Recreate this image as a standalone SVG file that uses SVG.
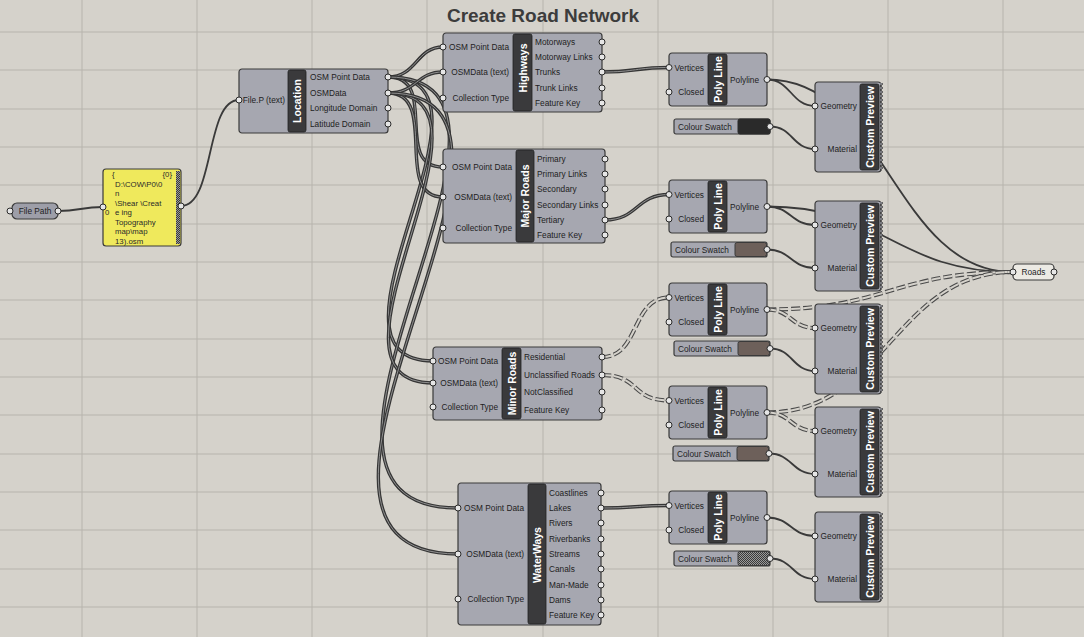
<svg xmlns="http://www.w3.org/2000/svg" width="1084" height="637" viewBox="0 0 1084 637">
<defs>
<style>
.bg{fill:#d5d2cb}
.grid{stroke:#b7b4ad;stroke-width:1;fill:none}
.body{fill:#a6a7b0;stroke:#3a3a3a;stroke-width:1.2}
.strip{fill:#3a3a3c;stroke:#222;stroke-width:0.8}
.ttl{fill:#ffffff;font-family:"Liberation Sans",Arial,sans-serif;font-weight:bold;font-size:10.5px;text-anchor:middle;dominant-baseline:central}
.lbl{fill:#1e1e1e;font-family:"Liberation Sans",Arial,sans-serif;font-size:8.3px;dominant-baseline:central}
.in{text-anchor:end}
.port{fill:#e6e6e6;stroke:#2a2a2a;stroke-width:1}
.w{fill:none;stroke:#3a3a3a;stroke-width:1.8}
.wd{fill:none;stroke:#353535;stroke-width:3.4}
.wdi{fill:none;stroke:#9a9a9a;stroke-width:0.9}
.wt{fill:none;stroke:#4a4a4a;stroke-width:4.2;stroke-dasharray:9 3}
.wti{fill:none;stroke:#d5d2cb;stroke-width:2;stroke-dasharray:9 3}
.panelt{fill:#2a2a2a;font-family:"Liberation Sans",Arial,sans-serif;font-size:7.8px}
</style>
<pattern id="zig" x="0" y="0" width="5" height="4" patternUnits="userSpaceOnUse">
<path d="M0,0 L3,2 L0,4 Z" fill="#a6a7b0" stroke="#2a2a2a" stroke-width="0.7"/>
</pattern>
<pattern id="dots" x="0" y="0" width="2" height="2" patternUnits="userSpaceOnUse">
<rect width="2" height="2" fill="#3a3a3a"/>
<rect width="1" height="1" fill="#9a9a9a"/>
<rect x="1" y="1" width="1" height="1" fill="#9a9a9a"/>
</pattern>
</defs>
<rect class="bg" x="0" y="0" width="1084" height="637"/>
<path class="grid" d="M82,0V637M197,0V637M312,0V637M427,0V637M543,0V637M658,0V637M773,0V637M888,0V637M1003,0V637M0,32H1084M0,70H1084M0,109H1084M0,147H1084M0,185H1084M0,224H1084M0,262H1084M0,300H1084M0,339H1084M0,377H1084M0,415H1084M0,454H1084M0,492H1084M0,530H1084M0,569H1084M0,607H1084"/>
<text x="543" y="22" font-family="Liberation Sans,Arial,sans-serif" font-size="19" font-weight="bold" fill="#3c3c3c" text-anchor="middle">Create Road Network</text>

<g id="connectors">
<path class="w" d="M58,211 C80,211 81,207 103,207"/>
<path class="w" d="M181,206 C215,206 205,100 239,100"/>
<!-- Location OSM Point Data -->
<path class="wd" d="M388,77 C417,77 416,47 443,47"/>
<path class="wdi" d="M388,77 C417,77 416,47 443,47"/>
<path class="wd" d="M388,77 C440,77 392,167 443,167"/>
<path class="wdi" d="M388,77 C440,77 392,167 443,167"/>
<path class="wd" d="M388,77 C520,77 300,361 433,361"/>
<path class="wdi" d="M388,77 C520,77 300,361 433,361"/>
<path class="wd" d="M388,77 C580,77 240,508 458,508"/>
<path class="wdi" d="M388,77 C580,77 240,508 458,508"/>
<!-- Location OSMData -->
<path class="wd" d="M388,93 C417,93 416,72 443,72"/>
<path class="wdi" d="M388,93 C417,93 416,72 443,72"/>
<path class="wd" d="M388,93 C440,93 392,197 443,197"/>
<path class="wdi" d="M388,93 C440,93 392,197 443,197"/>
<path class="wd" d="M388,93 C520,93 300,383 433,383"/>
<path class="wdi" d="M388,93 C520,93 300,383 433,383"/>
<path class="wd" d="M388,93 C590,93 228,554 458,554"/>
<path class="wdi" d="M388,93 C590,93 228,554 458,554"/>
<!-- outputs to polylines -->
<path class="wd" d="M602,72 C636,72 635,67.5 669,67.5"/>
<path class="wdi" d="M602,72 C636,72 635,67.5 669,67.5"/>
<path class="wd" d="M605,220 C638,220 636,194.5 669,194.5"/>
<path class="wdi" d="M605,220 C638,220 636,194.5 669,194.5"/>
<path class="wt" d="M602,357 C640,357 631,297.5 669,297.5"/>
<path class="wti" d="M602,357 C640,357 631,297.5 669,297.5"/>
<path class="wt" d="M602,375 C640,375 631,400.5 669,400.5"/>
<path class="wti" d="M602,375 C640,375 631,400.5 669,400.5"/>
<path class="wd" d="M601,508 C635,508 635,505.5 669,505.5"/>
<path class="wdi" d="M601,508 C635,508 635,505.5 669,505.5"/>
<!-- polylines to roads -->
<path class="w" d="M767,79.5 C885,79.5 895,272 1013,272"/>
<path class="w" d="M767,206.5 C885,206.5 895,272 1013,272"/>
<path class="wt" d="M767,309.5 C885,309.5 895,272 1013,272"/>
<path class="wti" d="M767,309.5 C885,309.5 895,272 1013,272"/>
<path class="wt" d="M767,412.5 C885,412.5 895,272 1013,272"/>
<path class="wti" d="M767,412.5 C885,412.5 895,272 1013,272"/>
<!-- polylines to previews -->
<path class="w" d="M767,79.5 C791,79.5 791,106 815,106"/>
<path class="w" d="M767,206.5 C791,206.5 791,225 815,225"/>
<path class="wt" d="M767,309.5 C791,309.5 791,328 815,328"/>
<path class="wti" d="M767,309.5 C791,309.5 791,328 815,328"/>
<path class="wt" d="M767,412.5 C791,412.5 791,431 815,431"/>
<path class="wti" d="M767,412.5 C791,412.5 791,431 815,431"/>
<path class="w" d="M767,517.5 C791,517.5 791,536 815,536"/>
<!-- swatches to material -->
<path class="w" d="M770,126.5 C793,126.5 792,149 815,149"/>
<path class="w" d="M767,249.5 C791,249.5 791,268 815,268"/>
<path class="w" d="M770,348.5 C793,348.5 792,371 815,371"/>
<path class="w" d="M769,453.5 C792,453.5 792,474 815,474"/>
<path class="w" d="M770,558.5 C793,558.5 792,579 815,579"/>
</g>

<g id="filepath">
<rect x="12" y="203" width="46" height="16" rx="5" fill="#9d9ea8" stroke="#3a3a3a" stroke-width="1.2"/>
<text class="lbl" x="35" y="211" text-anchor="middle">File Path</text>
<circle class="port" cx="10" cy="211" r="3"/>
<circle class="port" cx="58" cy="211" r="3"/>
</g>

<g id="panel">
<rect x="103" y="169" width="78" height="77" rx="3" fill="#efe95c" stroke="#3a3a3a" stroke-width="1.2"/>
<rect x="176" y="171" width="4" height="73" fill="url(#dots)"/>
<text class="panelt" x="112" y="177">{</text>
<text class="panelt" x="172" y="177" text-anchor="end">{0}</text>
<text class="panelt" x="115" y="187">D:\COW\P0\0</text>
<text class="panelt" x="115" y="196">n</text>
<text class="panelt" x="115" y="206">\Shear \Creat</text>
<text class="panelt" x="105" y="215">0</text>
<text class="panelt" x="115" y="215">e  ing</text>
<text class="panelt" x="115" y="225">Topography</text>
<text class="panelt" x="115" y="234">map\map</text>
<text class="panelt" x="115" y="244">13).osm</text>
<circle class="port" cx="103" cy="207" r="3"/>
<circle class="port" cx="181" cy="206" r="3"/>
</g>

<g id="location" transform="translate(239,69)">
<rect class="body" width="149" height="64" rx="3"/>
<rect class="strip" x="49" y="1" width="18" height="62" rx="2"/>
<text class="ttl" transform="translate(58,32) rotate(-90)">Location</text>
<text class="lbl in" x="46" y="31">File.P (text)</text>
<text class="lbl" x="71" y="8">OSM Point Data</text>
<text class="lbl" x="71" y="24">OSMData</text>
<text class="lbl" x="71" y="39">Longitude Domain</text>
<text class="lbl" x="71" y="55">Latitude Domain</text>
<circle class="port" cx="0" cy="31" r="3"/>
<circle class="port" cx="149" cy="8" r="3"/>
<circle class="port" cx="149" cy="24" r="3"/>
<circle class="port" cx="149" cy="39" r="3"/>
<circle class="port" cx="149" cy="55" r="3"/>
</g>

<g id="highways" transform="translate(443,33)">
<rect class="body" width="159" height="79" rx="3"/>
<rect class="strip" x="70" y="1" width="19" height="77" rx="2"/>
<text class="ttl" transform="translate(79.5,35) rotate(-90)">Highways</text>
<text class="lbl in" x="66" y="14">OSM Point Data</text>
<text class="lbl in" x="66" y="39">OSMData (text)</text>
<text class="lbl in" x="66" y="65">Collection Type</text>
<text class="lbl" x="92" y="9">Motorways</text>
<text class="lbl" x="92" y="24">Motorway Links</text>
<text class="lbl" x="92" y="39">Trunks</text>
<text class="lbl" x="92" y="55">Trunk Links</text>
<text class="lbl" x="92" y="70">Feature Key</text>
<circle class="port" cx="0" cy="14" r="3"/>
<circle class="port" cx="0" cy="39" r="3"/>
<circle class="port" cx="0" cy="65" r="3"/>
<circle class="port" cx="159" cy="9" r="3"/>
<circle class="port" cx="159" cy="24" r="3"/>
<circle class="port" cx="159" cy="39" r="3"/>
<circle class="port" cx="159" cy="55" r="3"/>
<circle class="port" cx="159" cy="70" r="3"/>
</g>

<g id="major-roads" transform="translate(443,149)">
<rect class="body" width="162" height="94" rx="3"/>
<rect class="strip" x="73" y="1" width="18" height="92" rx="2"/>
<text class="ttl" transform="translate(82,47) rotate(-90)">Major Roads</text>
<text class="lbl in" x="69" y="18">OSM Point Data</text>
<text class="lbl in" x="69" y="48">OSMData (text)</text>
<text class="lbl in" x="69" y="79">Collection Type</text>
<text class="lbl" x="94" y="10">Primary</text>
<text class="lbl" x="94" y="25">Primary Links</text>
<text class="lbl" x="94" y="40">Secondary</text>
<text class="lbl" x="94" y="56">Secondary Links</text>
<text class="lbl" x="94" y="71">Tertiary</text>
<text class="lbl" x="94" y="86">Feature Key</text>
<circle class="port" cx="0" cy="18" r="3"/>
<circle class="port" cx="0" cy="48" r="3"/>
<circle class="port" cx="0" cy="79" r="3"/>
<circle class="port" cx="162" cy="10" r="3"/>
<circle class="port" cx="162" cy="25" r="3"/>
<circle class="port" cx="162" cy="40" r="3"/>
<circle class="port" cx="162" cy="56" r="3"/>
<circle class="port" cx="162" cy="71" r="3"/>
<circle class="port" cx="162" cy="86" r="3"/>
</g>

<g id="minor-roads" transform="translate(433,347)">
<rect class="body" width="169" height="73" rx="3"/>
<rect class="strip" x="69" y="1" width="19" height="71" rx="2"/>
<text class="ttl" transform="translate(78.5,36.5) rotate(-90)">Minor Roads</text>
<text class="lbl in" x="65" y="14">OSM Point Data</text>
<text class="lbl in" x="65" y="36">OSMData (text)</text>
<text class="lbl in" x="65" y="60">Collection Type</text>
<text class="lbl" x="91" y="10">Residential</text>
<text class="lbl" x="91" y="28">Unclassified Roads</text>
<text class="lbl" x="91" y="45">NotClassified</text>
<text class="lbl" x="91" y="63">Feature Key</text>
<circle class="port" cx="0" cy="14" r="3"/>
<circle class="port" cx="0" cy="36" r="3"/>
<circle class="port" cx="0" cy="60" r="3"/>
<circle class="port" cx="169" cy="10" r="3"/>
<circle class="port" cx="169" cy="28" r="3"/>
<circle class="port" cx="169" cy="45" r="3"/>
<circle class="port" cx="169" cy="63" r="3"/>
</g>

<g id="waterways" transform="translate(458,483)">
<rect class="body" width="143" height="142" rx="3"/>
<rect class="strip" x="70" y="1" width="18" height="140" rx="2"/>
<text class="ttl" transform="translate(79,72) rotate(-90)">WaterWays</text>
<text class="lbl in" x="66" y="25">OSM Point Data</text>
<text class="lbl in" x="66" y="71">OSMData (text)</text>
<text class="lbl in" x="66" y="116">Collection Type</text>
<text class="lbl" x="91" y="10">Coastlines</text>
<text class="lbl" x="91" y="25">Lakes</text>
<text class="lbl" x="91" y="40">Rivers</text>
<text class="lbl" x="91" y="56">Riverbanks</text>
<text class="lbl" x="91" y="71">Streams</text>
<text class="lbl" x="91" y="86">Canals</text>
<text class="lbl" x="91" y="102">Man-Made</text>
<text class="lbl" x="91" y="117">Dams</text>
<text class="lbl" x="91" y="132">Feature Key</text>
<circle class="port" cx="0" cy="25" r="3"/>
<circle class="port" cx="0" cy="71" r="3"/>
<circle class="port" cx="0" cy="116" r="3"/>
<circle class="port" cx="143" cy="10" r="3"/>
<circle class="port" cx="143" cy="25" r="3"/>
<circle class="port" cx="143" cy="40" r="3"/>
<circle class="port" cx="143" cy="56" r="3"/>
<circle class="port" cx="143" cy="71" r="3"/>
<circle class="port" cx="143" cy="86" r="3"/>
<circle class="port" cx="143" cy="102" r="3"/>
<circle class="port" cx="143" cy="117" r="3"/>
<circle class="port" cx="143" cy="132" r="3"/>
</g>

<g id="polyline-1" transform="translate(669,53)">
<rect class="body" width="98" height="53" rx="3"/>
<rect class="strip" x="39" y="1" width="19" height="51" rx="2"/>
<text class="ttl" transform="translate(48.5,26.5) rotate(-90)">Poly Line</text>
<text class="lbl in" x="35" y="14.5">Vertices</text>
<text class="lbl in" x="35" y="39">Closed</text>
<text class="lbl" x="61" y="26.5">Polyline</text>
<circle class="port" cx="0" cy="14.5" r="3"/>
<circle class="port" cx="0" cy="39" r="3"/>
<circle class="port" cx="98" cy="26.5" r="3"/>
</g>
<g id="polyline-2" transform="translate(669,180)">
<rect class="body" width="98" height="53" rx="3"/>
<rect class="strip" x="39" y="1" width="19" height="51" rx="2"/>
<text class="ttl" transform="translate(48.5,26.5) rotate(-90)">Poly Line</text>
<text class="lbl in" x="35" y="14.5">Vertices</text>
<text class="lbl in" x="35" y="39">Closed</text>
<text class="lbl" x="61" y="26.5">Polyline</text>
<circle class="port" cx="0" cy="14.5" r="3"/>
<circle class="port" cx="0" cy="39" r="3"/>
<circle class="port" cx="98" cy="26.5" r="3"/>
</g>
<g id="polyline-3" transform="translate(669,283)">
<rect class="body" width="98" height="53" rx="3"/>
<rect class="strip" x="39" y="1" width="19" height="51" rx="2"/>
<text class="ttl" transform="translate(48.5,26.5) rotate(-90)">Poly Line</text>
<text class="lbl in" x="35" y="14.5">Vertices</text>
<text class="lbl in" x="35" y="39">Closed</text>
<text class="lbl" x="61" y="26.5">Polyline</text>
<circle class="port" cx="0" cy="14.5" r="3"/>
<circle class="port" cx="0" cy="39" r="3"/>
<circle class="port" cx="98" cy="26.5" r="3"/>
</g>
<g id="polyline-4" transform="translate(669,386)">
<rect class="body" width="98" height="53" rx="3"/>
<rect class="strip" x="39" y="1" width="19" height="51" rx="2"/>
<text class="ttl" transform="translate(48.5,26.5) rotate(-90)">Poly Line</text>
<text class="lbl in" x="35" y="14.5">Vertices</text>
<text class="lbl in" x="35" y="39">Closed</text>
<text class="lbl" x="61" y="26.5">Polyline</text>
<circle class="port" cx="0" cy="14.5" r="3"/>
<circle class="port" cx="0" cy="39" r="3"/>
<circle class="port" cx="98" cy="26.5" r="3"/>
</g>
<g id="polyline-5" transform="translate(669,491)">
<rect class="body" width="98" height="53" rx="3"/>
<rect class="strip" x="39" y="1" width="19" height="51" rx="2"/>
<text class="ttl" transform="translate(48.5,26.5) rotate(-90)">Poly Line</text>
<text class="lbl in" x="35" y="14.5">Vertices</text>
<text class="lbl in" x="35" y="39">Closed</text>
<text class="lbl" x="61" y="26.5">Polyline</text>
<circle class="port" cx="0" cy="14.5" r="3"/>
<circle class="port" cx="0" cy="39" r="3"/>
<circle class="port" cx="98" cy="26.5" r="3"/>
</g>

<g id="swatch-1" transform="translate(674,119)">
<rect class="body" width="96" height="15" rx="2"/>
<rect x="64" y="0" width="32" height="15" rx="2" fill="#2a2a2a" stroke="#2a2a2a"/>
<text class="lbl" x="4" y="7.5">Colour Swatch</text>
<circle class="port" cx="96" cy="7.5" r="3"/>
</g>
<g id="swatch-2" transform="translate(671,242)">
<rect class="body" width="96" height="15" rx="2"/>
<rect x="64" y="0.5" width="31.5" height="14" rx="2" fill="#6d605a" stroke="#3a3a3a"/>
<text class="lbl" x="4" y="7.5">Colour Swatch</text>
<circle class="port" cx="96" cy="7.5" r="3"/>
</g>
<g id="swatch-3" transform="translate(674,341)">
<rect class="body" width="96" height="15" rx="2"/>
<rect x="64" y="0.5" width="31.5" height="14" rx="2" fill="#6d605a" stroke="#3a3a3a"/>
<text class="lbl" x="4" y="7.5">Colour Swatch</text>
<circle class="port" cx="96" cy="7.5" r="3"/>
</g>
<g id="swatch-4" transform="translate(673,446)">
<rect class="body" width="96" height="15" rx="2"/>
<rect x="64" y="0.5" width="31.5" height="14" rx="2" fill="#6d605a" stroke="#3a3a3a"/>
<text class="lbl" x="4" y="7.5">Colour Swatch</text>
<circle class="port" cx="96" cy="7.5" r="3"/>
</g>
<g id="swatch-5" transform="translate(674,551)">
<rect class="body" width="96" height="15" rx="2"/>
<rect x="64" y="0.5" width="31.5" height="14" rx="2" fill="url(#dots)" stroke="#3a3a3a"/>
<text class="lbl" x="4" y="7.5">Colour Swatch</text>
<circle class="port" cx="96" cy="7.5" r="3"/>
</g>

<g id="preview-1" transform="translate(815,82)">
<rect class="body" width="66" height="90" rx="3"/>
<rect x="65" y="1" width="4" height="88" fill="url(#zig)"/>
<rect class="strip" x="45" y="2" width="19" height="86" rx="2"/>
<text class="ttl" transform="translate(54.5,45) rotate(-90)">Custom Preview</text>
<text class="lbl in" x="42" y="24">Geometry</text>
<text class="lbl in" x="42" y="67">Material</text>
<circle class="port" cx="0" cy="24" r="3"/>
<circle class="port" cx="0" cy="67" r="3"/>
</g>
<g id="preview-2" transform="translate(815,201)">
<rect class="body" width="66" height="90" rx="3"/>
<rect x="65" y="1" width="4" height="88" fill="url(#zig)"/>
<rect class="strip" x="45" y="2" width="19" height="86" rx="2"/>
<text class="ttl" transform="translate(54.5,45) rotate(-90)">Custom Preview</text>
<text class="lbl in" x="42" y="24">Geometry</text>
<text class="lbl in" x="42" y="67">Material</text>
<circle class="port" cx="0" cy="24" r="3"/>
<circle class="port" cx="0" cy="67" r="3"/>
</g>
<g id="preview-3" transform="translate(815,304)">
<rect class="body" width="66" height="90" rx="3"/>
<rect x="65" y="1" width="4" height="88" fill="url(#zig)"/>
<rect class="strip" x="45" y="2" width="19" height="86" rx="2"/>
<text class="ttl" transform="translate(54.5,45) rotate(-90)">Custom Preview</text>
<text class="lbl in" x="42" y="24">Geometry</text>
<text class="lbl in" x="42" y="67">Material</text>
<circle class="port" cx="0" cy="24" r="3"/>
<circle class="port" cx="0" cy="67" r="3"/>
</g>
<g id="preview-4" transform="translate(815,407)">
<rect class="body" width="66" height="90" rx="3"/>
<rect x="65" y="1" width="4" height="88" fill="url(#zig)"/>
<rect class="strip" x="45" y="2" width="19" height="86" rx="2"/>
<text class="ttl" transform="translate(54.5,45) rotate(-90)">Custom Preview</text>
<text class="lbl in" x="42" y="24">Geometry</text>
<text class="lbl in" x="42" y="67">Material</text>
<circle class="port" cx="0" cy="24" r="3"/>
<circle class="port" cx="0" cy="67" r="3"/>
</g>
<g id="preview-5" transform="translate(815,512)">
<rect class="body" width="66" height="90" rx="3"/>
<rect x="65" y="1" width="4" height="88" fill="url(#zig)"/>
<rect class="strip" x="45" y="2" width="19" height="86" rx="2"/>
<text class="ttl" transform="translate(54.5,45) rotate(-90)">Custom Preview</text>
<text class="lbl in" x="42" y="24">Geometry</text>
<text class="lbl in" x="42" y="67">Material</text>
<circle class="port" cx="0" cy="24" r="3"/>
<circle class="port" cx="0" cy="67" r="3"/>
</g>

<g id="roads">
<rect x="1013" y="264" width="41" height="16" rx="4" fill="#eceae4" stroke="#3a3a3a" stroke-width="1.2"/>
<text class="lbl" x="1033.5" y="272" text-anchor="middle">Roads</text>
<circle class="port" cx="1013" cy="272" r="3"/>
<circle class="port" cx="1054" cy="272" r="3"/>
</g>
</svg>
